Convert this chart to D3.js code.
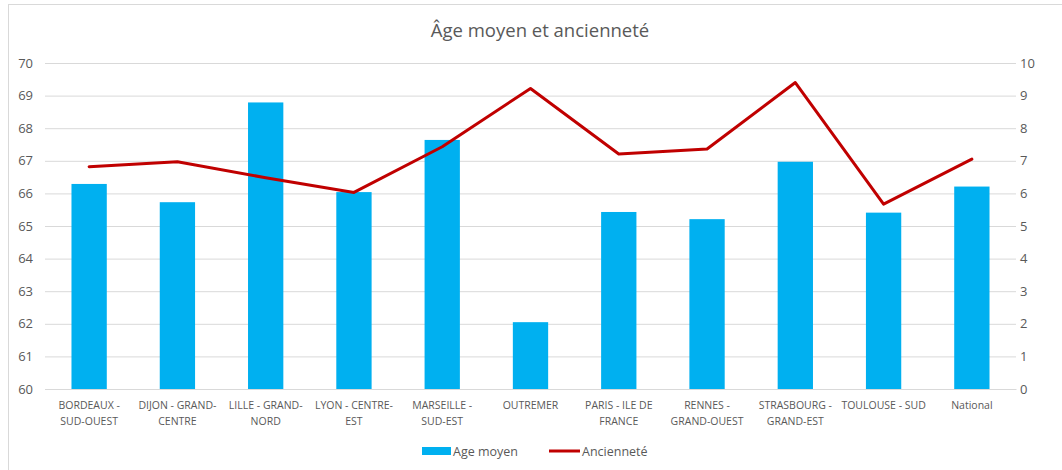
<!DOCTYPE html>
<html>
<head>
<meta charset="utf-8">
<script src="https://cdn.jsdelivr.net/npm/d3@7"></script>
<style>
  body { margin: 0; background: #fff; font-family: "Open Sans", "Noto Sans", sans-serif; }
  .grid line { stroke: #d9d9d9; }
  .axis text { fill: #595959; }
</style>
</head>
<body>
<script>
// Chart data
var categories = ["BORDEAUX -\nSUD-OUEST", "DIJON - GRAND-\nCENTRE", "LILLE - GRAND-\nNORD",
  "LYON - CENTRE-\nEST", "MARSEILLE -\nSUD-EST", "OUTREMER", "PARIS - ILE DE\nFRANCE",
  "RENNES -\nGRAND-OUEST", "STRASBOURG -\nGRAND-EST", "TOULOUSE - SUD", "National"];
var ageMoyen = [66.29, 65.73, 68.79, 66.04, 67.64, 62.05, 65.43, 65.21, 66.97, 65.41, 66.21];
var anciennete = [6.82, 6.97, 6.48, 6.03, 7.43, 9.22, 7.21, 7.36, 9.40, 5.67, 7.05];
var leftTicks = [60, 61, 62, 63, 64, 65, 66, 67, 68, 69, 70];
var rightTicks = [0, 1, 2, 3, 4, 5, 6, 7, 8, 9, 10];
var seriesNames = ["Age moyen", "Ancienneté"];
var title = "Âge moyen et ancienneté";

// Dimensions
var svgWidth = 1062;
var svgHeight = 470;
var margin = { top: 63, right: 46, bottom: 81, left: 45 };
var chartWidth = svgWidth - margin.left - margin.right;
var chartHeight = svgHeight - margin.top - margin.bottom;

var svg = d3.select("body")
  .append("svg")
  .attr("width", svgWidth)
  .attr("height", svgHeight);

// Chart frame
svg.append("rect")
  .attr("x", 8.5)
  .attr("y", 4.5)
  .attr("width", svgWidth + 10)
  .attr("height", svgHeight + 10)
  .attr("fill", "none")
  .attr("stroke", "#d9d9d9");

svg.append("text")
  .attr("x", 540)
  .attr("y", 37)
  .attr("text-anchor", "middle")
  .attr("fill", "#595959")
  .style("font-size", "18.5px")
  .text(title);

var chartGroup = svg.append("g")
  .attr("transform", `translate(${margin.left}, ${margin.top})`);

// Scales
var xBandScale = d3.scaleBand()
  .domain(categories)
  .range([0, chartWidth])
  .paddingInner(0.6)
  .paddingOuter(0.3);

var yLeftScale = d3.scaleLinear()
  .domain([60, 70])
  .range([chartHeight, 0]);

var yRightScale = d3.scaleLinear()
  .domain([0, 10])
  .range([chartHeight, 0]);

// Gridlines
chartGroup.append("g")
  .classed("grid", true)
  .call(d3.axisLeft(yLeftScale).tickValues(leftTicks).tickSize(-chartWidth).tickFormat(""))
  .call(g => g.select(".domain").remove());

// Bars
chartGroup.selectAll(".bar")
  .data(ageMoyen)
  .enter()
  .append("rect")
  .classed("bar", true)
  .attr("x", (d, i) => xBandScale(categories[i]))
  .attr("y", d => yLeftScale(d))
  .attr("width", xBandScale.bandwidth())
  .attr("height", d => chartHeight - yLeftScale(d))
  .attr("fill", "#00b0f0");

// Line
var drawLine = d3.line()
  .x((d, i) => xBandScale(categories[i]) + xBandScale.bandwidth() / 2)
  .y(d => yRightScale(d));

chartGroup.append("path")
  .attr("d", drawLine(anciennete))
  .attr("fill", "none")
  .attr("stroke", "#c00000")
  .attr("stroke-width", 3)
  .attr("stroke-linejoin", "round")
  .attr("stroke-linecap", "round");

// Left axis
chartGroup.append("g")
  .classed("axis", true)
  .call(d3.axisLeft(yLeftScale).tickValues(leftTicks).tickSize(0).tickPadding(12))
  .call(g => g.select(".domain").remove())
  .call(g => g.selectAll("text").style("font-size", "13px").style("font-family", "Open Sans"));

// Right axis
chartGroup.append("g")
  .classed("axis", true)
  .attr("transform", `translate(${chartWidth}, 0)`)
  .call(d3.axisRight(yRightScale).tickValues(rightTicks).tickSize(0).tickPadding(4))
  .call(g => g.select(".domain").remove())
  .call(g => g.selectAll("text").style("font-size", "13px").style("font-family", "Open Sans"));

// Bottom axis with wrapped labels
chartGroup.append("g")
  .classed("axis", true)
  .attr("transform", `translate(0, ${chartHeight})`)
  .call(d3.axisBottom(xBandScale).tickSize(0).tickFormat(""))
  .call(g => g.select(".domain").attr("stroke", "#d9d9d9"))
  .call(g => g.selectAll(".tick").each(function(d) {
    var t = d3.select(this).append("text")
      .attr("fill", "#595959")
      .attr("text-anchor", "middle")
      .style("font-size", "10.5px")
      .style("font-family", "Open Sans");
    d.split("\n").forEach(function(line, k) {
      t.append("tspan").attr("x", 0).attr("y", 20 + k * 15.5).text(line);
    });
  }));

// Legend
var legend = svg.append("g").attr("transform", "translate(0, 451)");
legend.append("rect")
  .attr("x", 422).attr("y", -4).attr("width", 29).attr("height", 8)
  .attr("fill", "#00b0f0");
legend.append("text")
  .attr("x", 453).attr("y", 4.5)
  .attr("fill", "#595959").style("font-size", "12.5px")
  .text(seriesNames[0]);
legend.append("line")
  .attr("x1", 549).attr("x2", 580).attr("y1", 0).attr("y2", 0)
  .attr("stroke", "#c00000").attr("stroke-width", 3);
legend.append("text")
  .attr("x", 582).attr("y", 4.5)
  .attr("fill", "#595959").style("font-size", "12.5px")
  .text(seriesNames[1]);
</script>
</body>
</html>
